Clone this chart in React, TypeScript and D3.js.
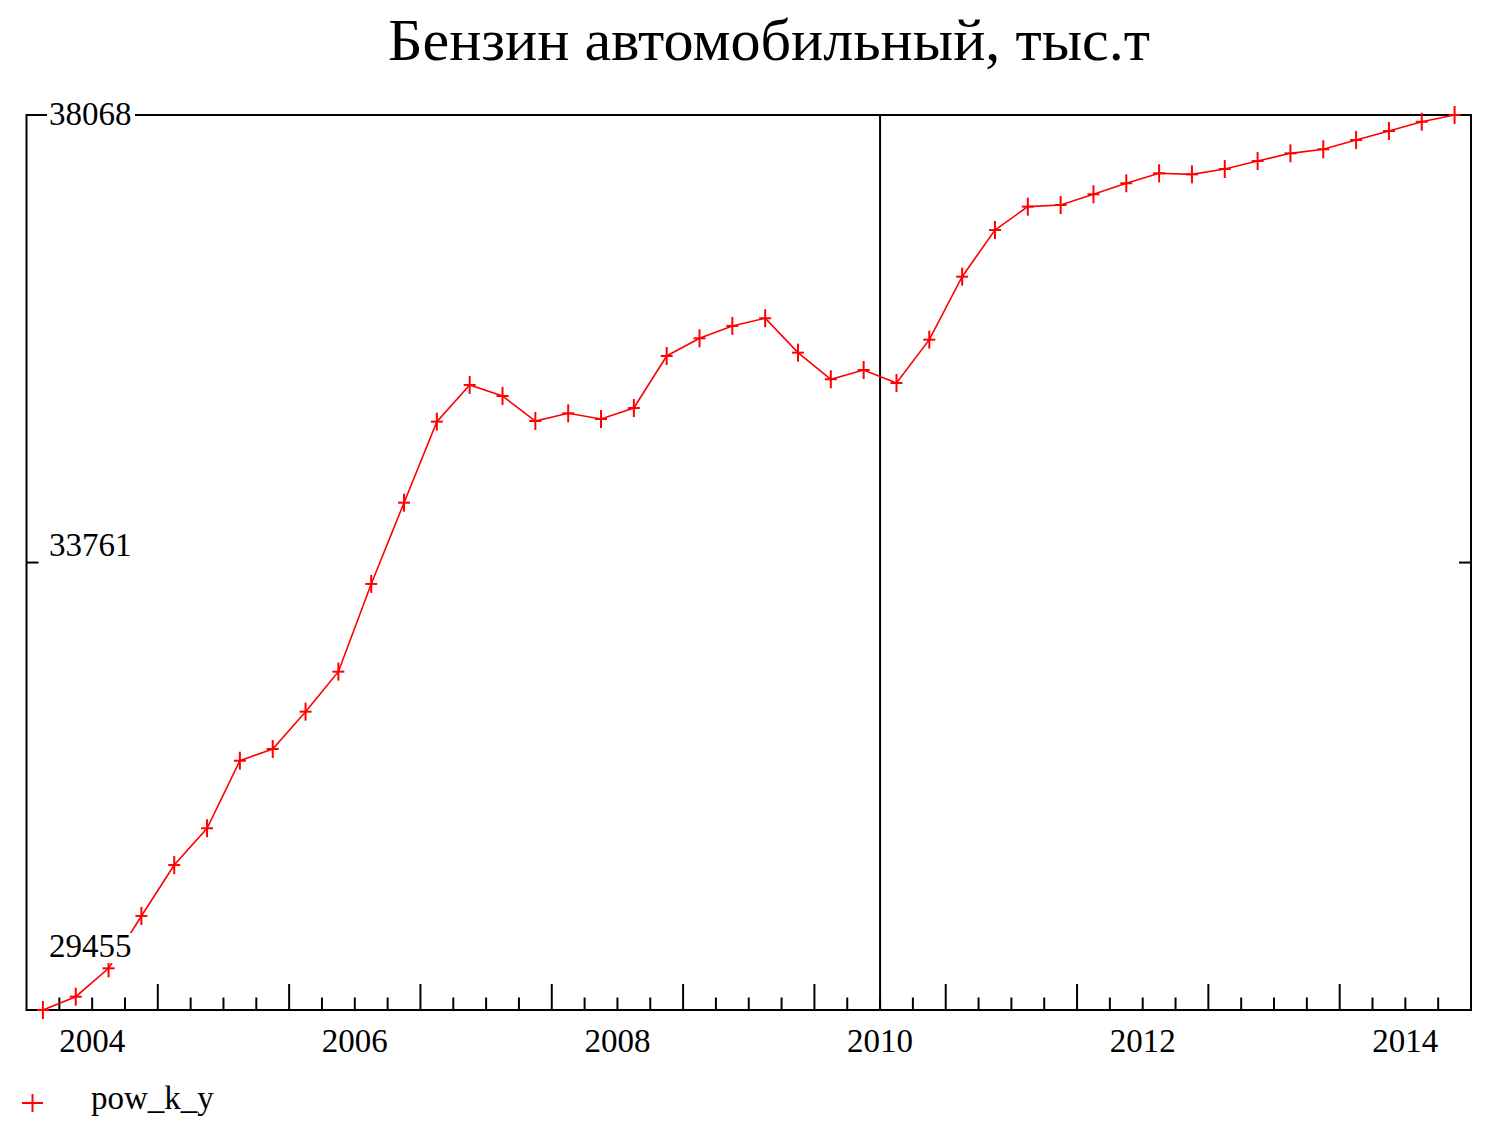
import React from "react";
import * as d3 from "d3";

const title = "Бензин автомобильный, тыс.т";
const seriesName = "pow_k_y";
const startYear = 2003;
const startQuarter = 3;
const values = [
  29455, 29583, 29856, 30360, 30850, 31204, 31854, 31967, 32326, 32711,
  33555, 34337, 35117, 35470, 35364, 35123, 35197, 35142, 35248, 35749,
  35919, 36038, 36112, 35781, 35525, 35614, 35489, 35906, 36512, 36961,
  37186, 37202, 37305, 37411, 37507, 37497, 37548, 37625, 37699, 37738,
  37827, 37914, 38003, 38068,
];
const yTickValues = [38068, 33761, 29455];
const xTickYears = [2004, 2006, 2008, 2010, 2012, 2014];
const markerLineYear = 2010;
const xDomain = [2003.5, 2014.5];

const W = 1493;
const H = 1121;
const L = 26.5, R = 1471, T = 115, B = 1010;
const FONT = "'Liberation Serif', 'Times New Roman', serif";

export default function App() {
  const x = d3.scaleLinear().domain(xDomain).range([L, R]);
  const y = d3.scaleLinear().domain([yTickValues[2], yTickValues[0]]).range([B, T]);
  const data = values.map((v, i) => {
    const qi = startQuarter - 1 + i;
    const yr = startYear + Math.floor(qi / 4);
    const q = qi % 4;
    return { t: yr + (q + 0.5) / 4, v };
  });
  const line = d3.line<{ t: number; v: number }>().x((d) => x(d.t)).y((d) => y(d.v));

  const ticks: { t: number; major: boolean }[] = [];
  for (let t = xDomain[0] + 0.25; t < xDomain[1] - 0.01; t += 0.25) {
    const frac = t - Math.floor(t);
    ticks.push({ t, major: Math.abs(frac - 0.5) < 1e-6 });
  }

  // y label placement (baseline offsets relative to tick position as in reference)
  const yLabels = [
    { v: yTickValues[0], base: y(yTickValues[0]) + 10 },
    { v: yTickValues[1], base: y(yTickValues[1]) - 7 },
    { v: yTickValues[2], base: y(yTickValues[2]) - 53 },
  ];

  return (
    <svg width={W} height={H} style={{ position: "absolute", left: 0, top: 0, background: "#fff" }}>
      <rect x={0} y={0} width={W} height={H} fill="#fff" />
      <text x={769} y={60} fontFamily={FONT} fontSize={60} textAnchor="middle" textLength={762} lengthAdjust="spacingAndGlyphs">{title}</text>

      {/* ticks */}
      {ticks.map((tk, i) => (
        <line key={i} x1={x(tk.t)} x2={x(tk.t)} y1={B} y2={B - (tk.major ? 26 : 12.5)} stroke="#000" strokeWidth={2} />
      ))}
      <line x1={L} x2={L + 12} y1={y(yTickValues[1])} y2={y(yTickValues[1])} stroke="#000" strokeWidth={2} />
      <line x1={R - 12} x2={R} y1={y(yTickValues[1])} y2={y(yTickValues[1])} stroke="#000" strokeWidth={2} />
      <line x1={x(markerLineYear)} x2={x(markerLineYear)} y1={T} y2={B} stroke="#000" strokeWidth={2} />
      <rect x={L} y={T} width={R - L} height={B - T} fill="none" stroke="#000" strokeWidth={2} />

      {/* series */}
      <path d={line(data) || ""} fill="none" stroke="#ff0000" strokeWidth={1.6} />
      {data.map((d, i) => (
        <g key={i} stroke="#ff0000" strokeWidth={2}>
          <line x1={x(d.t) - 6} x2={x(d.t) + 6} y1={y(d.v)} y2={y(d.v)} />
          <line x1={x(d.t)} x2={x(d.t)} y1={y(d.v) - 9} y2={y(d.v) + 9} />
        </g>
      ))}

      {/* y labels with white background */}
      {yLabels.map((lb, i) => (
        <g key={i}>
          <rect x={47} y={lb.base - 24} width={88} height={30} fill="#fff" />
          <text x={49} y={lb.base} fontFamily={FONT} fontSize={33}>{lb.v}</text>
        </g>
      ))}

      {/* x labels */}
      {xTickYears.map((yr) => (
        <text key={yr} x={x(yr)} y={1052} fontFamily={FONT} fontSize={33} textAnchor="middle">{yr}</text>
      ))}

      {/* legend */}
      <g stroke="#ff0000" strokeWidth={2}>
        <line x1={22} x2={43} y1={1103} y2={1103} />
        <line x1={32.5} x2={32.5} y1={1094} y2={1112} />
      </g>
      <text x={91} y={1109} fontFamily={FONT} fontSize={33}>{seriesName}</text>
    </svg>
  );
}
